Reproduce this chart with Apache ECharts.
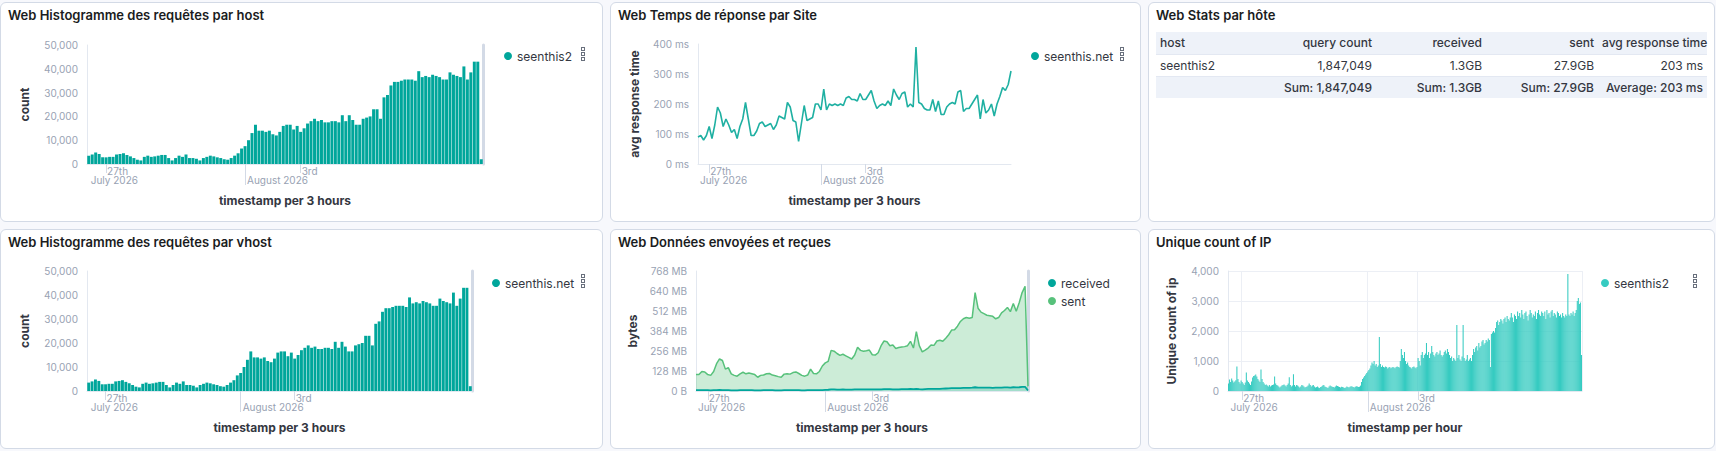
<!DOCTYPE html>
<html><head><meta charset="utf-8">
<script src="https://cdn.jsdelivr.net/npm/echarts@6/dist/echarts.min.js"></script>
<style>
html,body{margin:0;padding:0;background:#f7f8fc;width:1716px;height:451px;overflow:hidden;font-family:Inter,"Noto Sans",sans-serif;}
.panel{position:absolute;background:#fff;border:1px solid #d3dae6;border-radius:6px;box-sizing:border-box;}
.title{position:absolute;left:7px;top:4px;font-size:13px;line-height:16px;font-weight:600;color:#1a1c21;white-space:nowrap;}
.chart{position:absolute;}
.opt{position:absolute;width:4px;}
.opt i{display:block;width:2px;height:2px;border:1px solid #69707d;margin-bottom:1px;}
table.tbl{position:absolute;left:7px;top:29px;border-collapse:collapse;font-size:12px;color:#343741;table-layout:fixed;width:551px;}
table.tbl th,table.tbl td{height:22px;padding:0 4px;text-align:right;white-space:nowrap;box-sizing:border-box;}
table.tbl thead tr,table.tbl tfoot tr{background:#eef2f9;}
table.tbl th{font-weight:500;border-bottom:1px solid #e3e8f2;}
table.tbl tbody td{border-bottom:1px solid #e3e8f2;}
table.tbl tfoot td{font-weight:500;}
</style></head>
<body>
<div class="panel" style="left:0;top:2px;width:603px;height:220px"><div class="title">Web Histogramme des requêtes par host</div></div>
<div class="panel" style="left:610px;top:2px;width:531px;height:220px"><div class="title">Web Temps de réponse par Site</div></div>
<div class="panel" style="left:1148px;top:2px;width:567px;height:220px"><div class="title">Web Stats par hôte</div><table class="tbl" id="tbl"></table></div>
<div class="panel" style="left:0;top:229px;width:603px;height:220px"><div class="title">Web Histogramme des requêtes par vhost</div></div>
<div class="panel" style="left:610px;top:229px;width:531px;height:220px"><div class="title">Web Données envoyées et reçues</div></div>
<div class="panel" style="left:1148px;top:229px;width:567px;height:220px"><div class="title">Unique count of IP</div></div>

<div class="chart" id="c1" style="left:0;top:2px;width:603px;height:220px"></div>
<div class="chart" id="c2" style="left:610px;top:2px;width:531px;height:220px"></div>
<div class="chart" id="c4" style="left:0;top:229px;width:603px;height:220px"></div>
<div class="chart" id="c5" style="left:610px;top:229px;width:531px;height:220px"></div>
<div class="chart" id="c6" style="left:1148px;top:229px;width:567px;height:220px"></div>

<div class="opt" style="left:581px;top:47px"><i></i><i></i><i></i></div>
<div class="opt" style="left:1120px;top:47px"><i></i><i></i><i></i></div>
<div class="opt" style="left:581px;top:274px"><i></i><i></i><i></i></div>
<div class="opt" style="left:1693px;top:274px"><i></i><i></i><i></i></div>

<script>
// ---------- DATA ----------
// requests per 3h bucket (host seenthis2 / vhost seenthis.net), from Jul 26 09:00 UTC
const requestCounts = [3500,4000,4800,4200,2800,2800,3000,3000,4000,4200,
 4500,3800,3200,2500,1800,1500,3000,3500,3000,3200,
 3500,3800,3800,2500,1500,2500,3500,3000,4000,2500,
 2500,2200,1500,2500,3000,3500,3200,2800,2500,2000,
 1800,2500,3500,4500,6500,7500,10000,13000,16500,14000,
 14000,13500,14000,12500,12000,13500,16000,16500,16500,14500,
 16000,13500,15000,17000,18000,19000,18000,18500,17500,17500,
 18000,18000,17500,20500,18000,20500,18500,16500,16500,19000,
 19500,20000,23000,23000,19000,28000,29000,33000,34500,34500,
 35000,35500,35500,35500,35000,39000,36500,37000,36500,37500,
 37000,36500,35500,35500,38500,37500,37000,36500,41000,35500,
 38500,43000,43000,2000];
// avg response time (ms) per 3h, from Jul 26 12:00 UTC
const responseTimes = [90,95,80,95,125,85,130,190,170,125,
 150,130,105,115,85,125,150,205,150,95,
 95,110,135,140,125,130,135,115,130,160,
 155,150,205,190,145,140,75,135,195,145,
 150,155,200,200,180,250,180,200,195,200,
 195,200,195,220,225,215,215,210,235,215,
 215,230,245,210,185,195,200,195,210,195,
 250,230,215,235,240,190,200,190,390,205,
 200,185,180,180,215,175,210,165,165,190,
 200,205,200,240,245,175,185,185,200,215,
 230,150,215,170,180,200,160,200,225,255,
 245,265,310];
// bytes (MB) per 3h, from Jul 26 12:00 UTC
const receivedMB = [5,5,6,5,5,4,5,6,7,6,5,5,4,4,4,5,5,5,5,5,4,4,4,5,5,5,5,4,4,4,5,5,5,5,5,5,4,4,5,6,5,5,5,6,7,8,
 10,10,9,9,10,9,9,9,10,11,11,10,10,11,10,10,10,11,12,12,12,11,11,11,12,12,12,13,12,14,
 12,11,12,13,13,13,14,14,15,16,17,18,18,19,19,20,20,20,21,
 24,22,21,21,21,21,20,21,22,22,23,23,22,24,23,24,26,27,3];
const sentMB = [105,105,125,122,105,100,125,175,205,195,
 140,150,110,100,95,110,120,110,115,110,
 105,88,100,102,110,112,102,98,92,88,
 108,110,108,118,122,112,100,95,102,140,
 112,110,125,160,180,190,260,255,240,228,
 235,225,215,205,230,280,260,255,258,262,
 232,230,245,290,320,315,290,295,272,278,
 282,284,290,318,275,380,290,250,262,275,
 295,292,320,325,318,338,360,390,392,415,
 445,462,470,465,470,630,530,505,495,485,
 482,478,462,470,500,515,535,508,560,510,
 565,630,670,30];
// unique IPs per hour, from Jul 26 11:00 UTC
const uniqueIPs = [
 250,380,300,420,350,280,320,360,820,400,300,250,350,
 300,250,200,280,620,350,300,250,200,320,450,500,520,550,480,400,350,300,720,400,300,250,200,220,
 180,150,200,150,180,200,220,480,250,200,180,150,120,150,180,200,220,180,150,200,250,460,200,150,
 180,560,200,150,200,180,150,120,150,200,180,150,120,130,150,180,250,200,150,180,200,150,120,130,
 150,120,100,130,150,180,200,150,130,120,100,150,180,160,140,130,120,150,180,170,150,130,120,140,
 130,120,100,120,150,130,120,140,160,150,130,120,140,160,150,130,140,180,300,400,450,500,550,600,
 650,700,750,850,950,900,1000,850,900,800,850,1800,900,800,850,800,780,820,800,750,780,800,760,780,
 800,780,760,800,820,800,780,1000,1400,1200,1100,1300,1000,900,950,850,800,780,750,800,820,780,760,800,
 1100,1000,850,1200,1300,1100,1200,1250,1600,1200,1300,1100,1250,1500,1300,1200,1150,1250,1300,1200,1250,1350,1200,1150,
 1200,1300,1350,1250,1400,1300,1200,1100,1150,1000,1100,1050,1000,2200,1100,1200,1050,1000,1150,2200,1100,1000,1050,1200,
 1000,1050,1100,1000,1200,1400,1300,1450,1500,1350,1600,1450,1500,1650,1700,1550,1600,1700,1650,1750,1700,800,1900,1950,
 2000,1950,2100,2300,2350,2200,2300,2400,2350,2250,2400,2450,2300,2500,2400,2350,2450,2600,2450,2300,2550,2500,2400,2650,
 2500,2600,2450,2700,2550,2400,2600,2650,2500,2350,2550,2700,2600,2450,2550,2500,2650,2400,2600,2700,2550,2500,2650,2600,
 2500,2650,2400,2700,2550,2600,2450,2650,2700,2500,2600,2550,2450,2650,2600,2500,2550,2450,2600,2500,2450,2550,2500,3900,
 2550,2500,2600,2550,2650,2500,2600,2700,3000,3100,2900,2950,1200];
// table
const tableHeader = ['host','query count','received','sent','avg response time'];
const tableRow = ['seenthis2','1,847,049','1.3GB','27.9GB','203 ms'];
const tableFooter = ['','Sum: 1,847,049','Sum: 1.3GB','Sum: 27.9GB','Average: 203 ms'];
const tableColWidths = [104,116,110,112,109];

// ---------- helpers ----------
const MONTHS=['January','February','March','April','May','June','July','August','September','October','November','December'];
function makeTimes(start, stepH, n){const a=[];for(let i=0;i<n;i++)a.push(start+i*stepH*3600000);return a;}
function ord(d){if(d%10===1&&d!==11)return d+'st';if(d%10===2&&d!==12)return d+'nd';if(d%10===3&&d!==13)return d+'rd';return d+'th';}
function isWeek(t){const d=new Date(t);return d.getUTCDay()===1&&d.getUTCHours()===0;}
function isMonth(t){const d=new Date(t);return d.getUTCDate()===1&&d.getUTCHours()===0;}
const GRAY='#98a2b3', DARK='#343741', LINE='#d3dae6';
const FONT='Inter';

function xAxes(times, bar, title, gridLines){
  const cats=times.map(String);
  const base={type:'category',data:cats,boundaryGap:bar,position:'bottom'};
  return [
    Object.assign({},base,{
      axisLine:{show:true,lineStyle:{color:'#e3e8f0'}},
      axisTick:{show:true,alignWithLabel:true,length:9,interval:(i)=>isWeek(times[i]),lineStyle:{color:LINE}},
      axisLabel:{interval:(i)=>isWeek(times[i]),formatter:(v)=>ord(new Date(+v).getUTCDate()),align:'left',margin:2,padding:[0,0,0,1],color:GRAY,fontSize:10,fontFamily:FONT},
      splitLine:{show:!!gridLines,interval:(i)=>isWeek(times[i])||isMonth(times[i]),lineStyle:{color:'#eceff5'}},
      name:title,nameLocation:'middle',nameGap:30,nameTextStyle:{fontWeight:'bold',fontSize:12,color:DARK,fontFamily:FONT}
    }),
    Object.assign({},base,{
      axisLine:{show:false},
      axisTick:{show:true,alignWithLabel:true,length:21,interval:(i)=>isMonth(times[i]),lineStyle:{color:LINE}},
      axisLabel:{interval:(i)=>i===0||isMonth(times[i]),formatter:(v)=>{const d=new Date(+v);return MONTHS[d.getUTCMonth()]+' '+d.getUTCFullYear();},align:'left',margin:11,padding:[0,0,0,2],color:GRAY,fontSize:10,fontFamily:FONT},
      splitLine:{show:false}
    })
  ];
}
function yAxes(max, interval, fmt, name, gap, band, gridLines){
  const ax=[{type:'value',min:0,max:max,interval:interval,
    axisLine:{show:true,lineStyle:{color:'#e3e8f0'}},axisTick:{show:false},
    splitLine:{show:!!gridLines,lineStyle:{color:'#eceff5'}},
    axisLabel:{color:GRAY,fontSize:10,margin:9,fontFamily:FONT,formatter:fmt},
    name:name,nameLocation:'middle',nameRotate:90,nameGap:gap,
    nameTextStyle:{fontWeight:'bold',fontSize:12,color:DARK,fontFamily:FONT}}];
  if(band) ax.push({type:'value',position:'right',min:0,max:max,interval:interval,
    axisLine:{show:true,lineStyle:{color:LINE,width:3}},axisTick:{show:false},axisLabel:{show:false},splitLine:{show:false}});
  return ax;
}
function legend(left, names){
  return {left:left,top:43,orient:'vertical',itemGap:6,icon:'circle',itemWidth:8,itemHeight:8,selectedMode:false,
    data:names,textStyle:{fontSize:12,color:DARK,fontFamily:FONT}};
}
function init(id){return echarts.init(document.getElementById(id),null,{renderer:'svg'});}
const numFmt=(v)=>v.toLocaleString('en-US');

const t3bars=makeTimes(Date.UTC(2026,6,26,9),3,requestCounts.length);
const t3line=makeTimes(Date.UTC(2026,6,26,12),3,responseTimes.length);
const t3area=makeTimes(Date.UTC(2026,6,26,12),3,sentMB.length);
const t1h=makeTimes(Date.UTC(2026,6,26,11),1,uniqueIPs.length);

// panel 1
init('c1').setOption({animation:false,textStyle:{fontFamily:FONT},
  grid:{left:87,top:43,width:396,height:119},
  legend:legend(499,['seenthis2']),
  xAxis:xAxes(t3bars,true,'timestamp per 3 hours'),
  yAxis:yAxes(50000,10000,numFmt,'count',57,true),
  series:[{name:'seenthis2',type:'bar',data:requestCounts,itemStyle:{color:'#00a69b'},barCategoryGap:'14%'}]
});
// panel 4
init('c4').setOption({animation:false,textStyle:{fontFamily:FONT},
  grid:{left:87,top:42,width:385,height:120},
  legend:legend(487,['seenthis.net']),
  xAxis:xAxes(t3bars,true,'timestamp per 3 hours'),
  yAxis:yAxes(50000,10000,numFmt,'count',57,true),
  series:[{name:'seenthis.net',type:'bar',data:requestCounts,itemStyle:{color:'#00a69b'},barCategoryGap:'14%'}]
});
// panel 2
init('c2').setOption({animation:false,textStyle:{fontFamily:FONT},
  grid:{left:88,top:42,width:313,height:120},
  legend:legend(416,['seenthis.net']),
  xAxis:xAxes(t3line,false,'timestamp per 3 hours'),
  yAxis:yAxes(400,100,(v)=>v+' ms','avg response time',58,false),
  series:[{name:'seenthis.net',type:'line',data:responseTimes,showSymbol:false,symbol:'circle',
    itemStyle:{color:'#00a69b'},lineStyle:{color:'#1fb0a2',width:1.6}}]
});
// panel 5
init('c5').setOption({animation:false,textStyle:{fontFamily:FONT},
  grid:{left:86,top:42,width:332,height:120},
  legend:legend(433,['received','sent']),
  xAxis:xAxes(t3area,false,'timestamp per 3 hours'),
  yAxis:yAxes(768,128,(v)=>v===0?'0 B':v+' MB','bytes',57,true),
  series:[
    {name:'received',type:'line',data:receivedMB,showSymbol:false,symbol:'circle',z:4,
      itemStyle:{color:'#00a69b'},lineStyle:{color:'#00a69b',width:1.8},areaStyle:{color:'#00a69b',opacity:0.2}},
    {name:'sent',type:'line',data:sentMB,showSymbol:false,symbol:'circle',z:2,
      itemStyle:{color:'#57c17b'},lineStyle:{color:'#57c17b',width:1.5},areaStyle:{color:'#57c17b',opacity:0.3}}
  ]
});
// panel 6
init('c6').setOption({animation:false,textStyle:{fontFamily:FONT},
  grid:{left:80,top:42,width:354,height:120},
  legend:legend(448,['seenthis2']),
  xAxis:xAxes(t1h,true,'timestamp per hour',true),
  yAxis:yAxes(4000,1000,numFmt,'Unique count of ip',51,false,true),
  series:[{name:'seenthis2',type:'bar',data:uniqueIPs,itemStyle:{color:'#36cbc1'},barCategoryGap:'0%'}]
});

// table (panel 3)
(function(){
  const tbl=document.getElementById('tbl');
  let h='<colgroup>'+tableColWidths.map(w=>'<col style="width:'+w+'px">').join('')+'</colgroup>';
  const cell=(tag,v,i)=>'<'+tag+(i===0?' style="text-align:left"':'')+'>'+v+'</'+tag+'>';
  h+='<thead><tr>'+tableHeader.map((v,i)=>cell('th',v,i)).join('')+'</tr></thead>';
  h+='<tbody><tr>'+tableRow.map((v,i)=>cell('td',v,i)).join('')+'</tr></tbody>';
  h+='<tfoot><tr>'+tableFooter.map((v,i)=>cell('td',v,i)).join('')+'</tr></tfoot>';
  tbl.innerHTML=h;
})();
</script>
</body></html>
